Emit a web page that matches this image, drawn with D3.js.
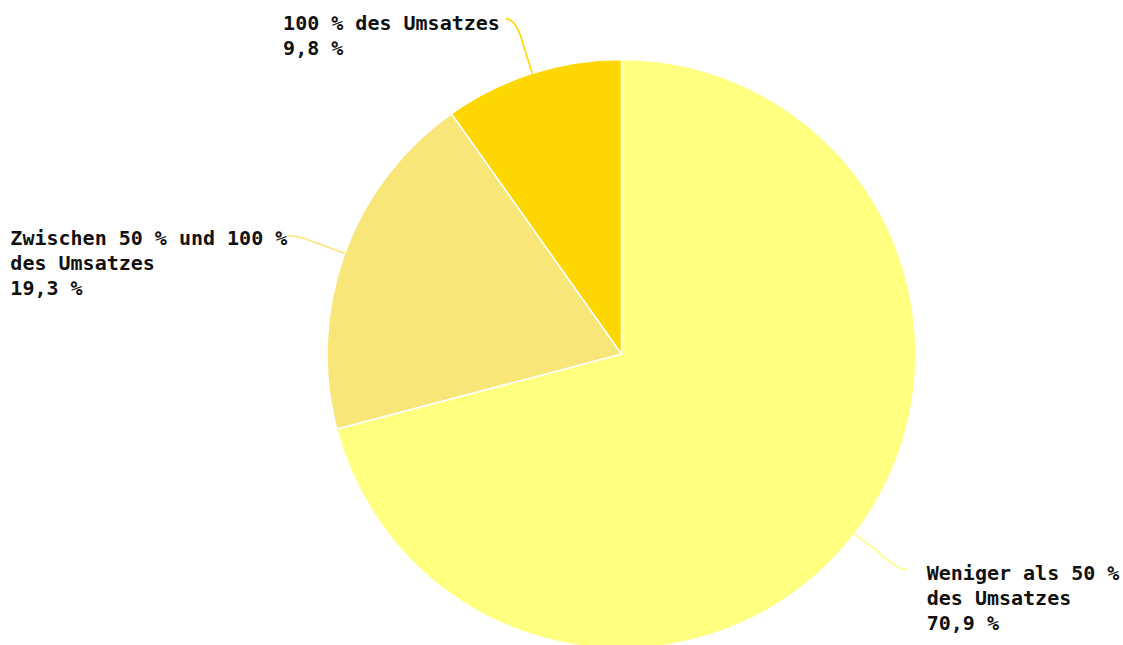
<!DOCTYPE html>
<html>
<head>
<meta charset="utf-8">
<script src="https://cdn.jsdelivr.net/npm/d3@7"></script>
<style>
  html, body { margin: 0; padding: 0; background: #ffffff; }
  svg { display: block; }
</style>
</head>
<body>
<svg id="chart" width="1123" height="645"></svg>
<script>
// ---- data ----
const categories = ["Weniger als 50 %\ndes Umsatzes", "Zwischen 50 % und 100 %\ndes Umsatzes", "100 % des Umsatzes"];
const values = [70.9, 19.3, 9.8];
const colors = ["#FFFF80", "#F9E679", "#FFD700"];

// ---- layout (label placement relative to slice mid-angle) ----
const labelLayout = [
  { side: "right", dAngle: -0.6, extra: 64, gap: 19, dy: 10 },
  { side: "left",  dAngle: -0.5, extra: 60, gap: 0,  dy: 9 },
  { side: "left",  dAngle: -1.4, extra: 60, gap: 6,  dy: 11 }
];

const W = 1123, H = 645;
const cx = 621.5, cy = 354, R = 294.5;
const svg = d3.select("#chart");
const g = svg.append("g").attr("transform", `translate(${cx},${cy})`);

const locale = d3.formatLocale({ decimal: ",", thousands: ".", grouping: [3], currency: ["", " €"] });
const fmt = locale.format(".1f");

const data = categories.map((c, i) => ({ name: c, value: values[i], color: colors[i], layout: labelLayout[i] }));

const pie = d3.pie().sort(null).value(d => d.value).startAngle(0).endAngle(2 * Math.PI);
const arcs = pie(data);
const arc = d3.arc().innerRadius(0).outerRadius(R);

g.selectAll("path.slice")
  .data(arcs)
  .enter().append("path")
  .attr("class", "slice")
  .attr("d", arc)
  .attr("fill", d => d.data.color)
  .attr("stroke", "#ffffff")
  .attr("stroke-width", 1.5)
  .attr("stroke-linejoin", "round");

const polar = (ang, r) => [r * Math.sin(ang), -r * Math.cos(ang)];

arcs.forEach(a => {
  const L = a.data.layout;
  const mid = (a.startAngle + a.endAngle) / 2;
  const edge = polar(mid, R);
  const brk = polar(mid, R + 30);
  const anchor = polar(mid + L.dAngle * Math.PI / 180, R + L.extra);
  const dir = L.side === "left" ? 1 : -1;
  const ctrl = [anchor[0] + dir * 12, anchor[1]];
  const path = d3.path();
  path.moveTo(anchor[0], anchor[1]);
  path.bezierCurveTo(ctrl[0], ctrl[1], brk[0], brk[1], brk[0], brk[1]);
  path.lineTo(edge[0], edge[1]);
  g.append("path")
    .attr("d", path.toString())
    .attr("fill", "none")
    .attr("stroke", a.data.color)
    .attr("stroke-width", 1.6);

  const lines = a.data.name.split("\n").concat([fmt(a.data.value) + " %"]);
  const text = g.append("text")
    .attr("font-family", "'DejaVu Sans Mono', monospace")
    .attr("font-weight", "bold")
    .attr("font-size", "20px")
    .attr("fill", "#111111");
  lines.forEach((ln, i) => {
    text.append("tspan").attr("x", 0).attr("y", i * 25).text(ln);
  });
  let maxW = 0;
  text.selectAll("tspan").each(function () { maxW = Math.max(maxW, this.getComputedTextLength()); });
  const tx = L.side === "left" ? anchor[0] - L.gap - maxW : anchor[0] + L.gap;
  const ty = anchor[1] + L.dy;
  text.attr("transform", `translate(${tx},${ty})`);
});
</script>
</body>
</html>
